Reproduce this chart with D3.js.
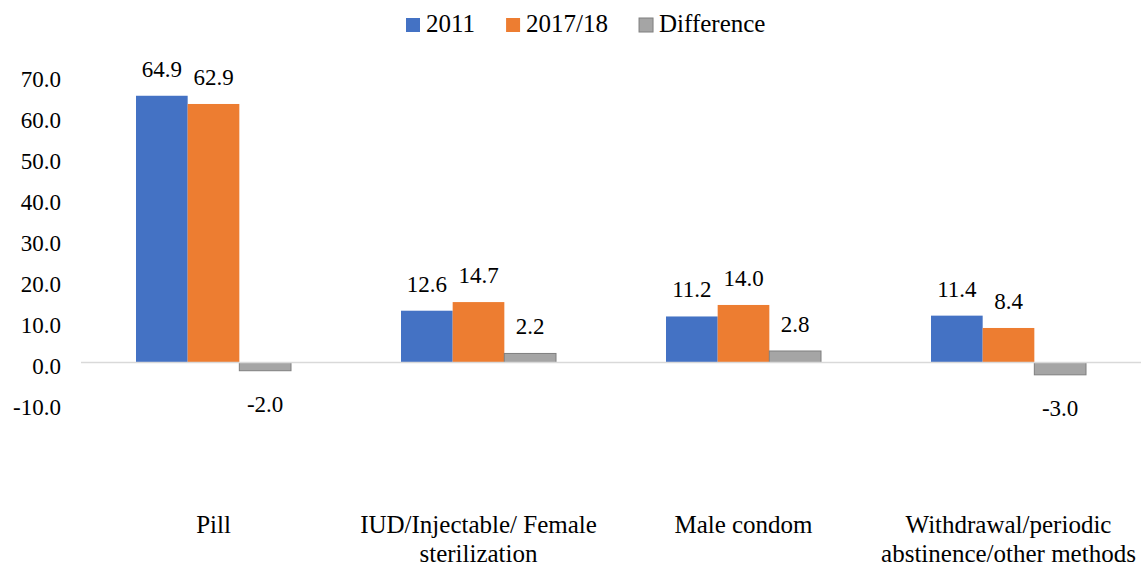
<!DOCTYPE html>
<html>
<head>
<meta charset="utf-8">
<script src="https://cdn.jsdelivr.net/npm/d3@7"></script>
<style>
  body { margin: 0; background: #fff; }
  #chart text { font-family: "Liberation Serif", "Times New Roman", serif !important; }
</style>
</head>
<body>
<svg id="chart"></svg>
<script>
// data
var categories = ["Pill", "IUD/Injectable/ Female sterilization", "Male condom", "Withdrawal/periodic abstinence/other methods"];
var seriesNames = ["2011", "2017/18", "Difference"];
var values2011 = [64.9, 12.6, 11.2, 11.4];
var values2017 = [62.9, 14.7, 14.0, 8.4];
var valuesDiff = [-2.0, 2.2, 2.8, -3.0];
var yTicks = [-10, 0, 10, 20, 30, 40, 50, 60, 70];
var colors = ["#4472C4", "#ED7D31", "#A5A5A5"];

var width = 1141, height = 568;
var font = "Liberation Serif";

var svg = d3.select("#chart")
  .attr("width", width)
  .attr("height", height);

var rows = [];
categories.forEach(function (c, i) {
  rows.push({ cat: c, key: seriesNames[0], value: values2011[i], s: 0 });
  rows.push({ cat: c, key: seriesNames[1], value: values2017[i], s: 1 });
  rows.push({ cat: c, key: seriesNames[2], value: valuesDiff[i], s: 2 });
});

var x0 = d3.scaleBand()
  .domain(categories)
  .range([81, 1141]);

var x1 = d3.scaleBand()
  .domain(seriesNames)
  .range([55, 210]);

var y = d3.scaleLinear()
  .domain([-10, 70])
  .range([403.6, 74.8]);

// y axis labels
var yAxis = svg.append("g")
  .attr("transform", "translate(72,0)")
  .call(d3.axisLeft(y).tickValues(yTicks).tickSize(0).tickPadding(11)
    .tickFormat(function (d) { return d.toFixed(1); }));
yAxis.attr("font-family", null).attr("font-size", null);
yAxis.select(".domain").remove();
yAxis.selectAll("text")
  .attr("dy", "0.32em")
  .attr("transform", "translate(0,4)")
  .attr("font-family", font)
  .attr("font-size", 23)
  .attr("fill", "#000");

// bars
svg.append("g")
  .selectAll("rect")
  .data(rows)
  .enter()
  .append("rect")
  .attr("x", function (d) { return x0(d.cat) + x1(d.key); })
  .attr("width", x1.bandwidth())
  .attr("y", function (d) { return y(Math.max(0, d.value)); })
  .attr("height", function (d) { return Math.abs(y(d.value) - y(0)); })
  .attr("fill", function (d) { return colors[d.s]; })
  .attr("stroke", function (d) { return d.s === 2 ? "#7f7f7f" : "none"; })
  .attr("stroke-width", 1);

// zero line
svg.append("line")
  .attr("x1", 81)
  .attr("x2", 1141)
  .attr("y1", y(0))
  .attr("y2", y(0))
  .attr("stroke", "#d9d9d9")
  .attr("stroke-width", 1.5);

// value labels
svg.append("g")
  .selectAll("text")
  .data(rows)
  .enter()
  .append("text")
  .attr("font-family", font)
  .attr("font-size", 23)
  .attr("x", function (d) { return x0(d.cat) + x1(d.key) + x1.bandwidth() / 2; })
  .attr("y", function (d) { return d.value >= 0 ? y(d.value) - 19 : y(d.value) + 41; })
  .attr("text-anchor", "middle")
  .text(function (d) { return d.value.toFixed(1); });

// category labels, wrapped
var catLabels = svg.append("g")
  .selectAll("text")
  .data(categories)
  .enter()
  .append("text")
  .attr("font-family", font)
  .attr("font-size", 25)
  .attr("x", function (d) { return x0(d) + x0.bandwidth() / 2; })
  .attr("y", 533)
  .attr("text-anchor", "middle");

catLabels.each(function (d) {
  var text = d3.select(this);
  var words = d.split(" ");
  var line = [];
  var tspan = text.append("tspan").attr("x", text.attr("x")).attr("dy", 0);
  words.forEach(function (w) {
    line.push(w);
    tspan.text(line.join(" "));
    if (tspan.node().getComputedTextLength() > 265 && line.length > 1) {
      line.pop();
      tspan.text(line.join(" "));
      line = [w];
      tspan = text.append("tspan").attr("x", text.attr("x")).attr("dy", 29).text(w);
    }
  });
});

// legend
var legend = svg.append("g");
var lx = 406;
seriesNames.forEach(function (name, i) {
  legend.append("rect")
    .attr("x", lx)
    .attr("y", 18)
    .attr("width", 14)
    .attr("height", 14)
    .attr("fill", colors[i])
    .attr("stroke", i === 2 ? "#7f7f7f" : "none");
  var t = legend.append("text")
    .attr("font-family", font)
    .attr("font-size", 25)
    .attr("x", lx + 20)
    .attr("y", 32)
    .text(name);
  lx = lx + 20 + t.node().getComputedTextLength() + 31;
});
</script>
</body>
</html>
